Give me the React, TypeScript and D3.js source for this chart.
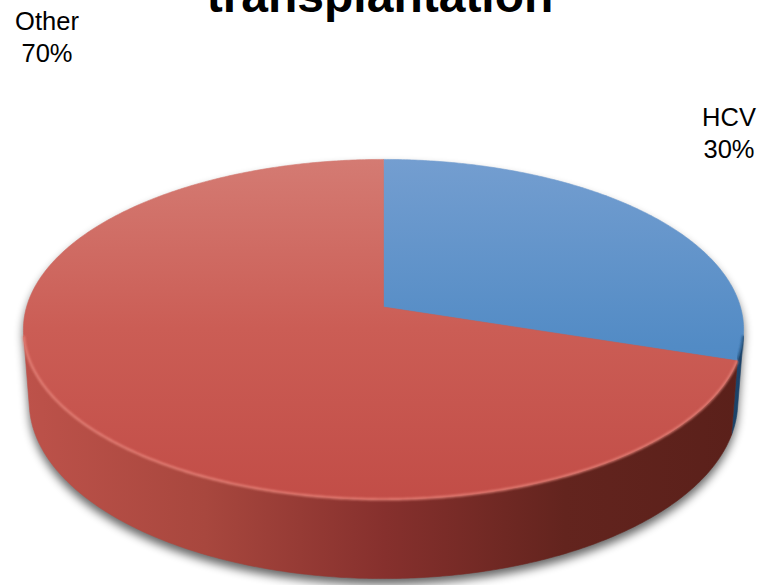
import React from "react";
import * as d3 from "d3";

// ---- data ----
const categories = ["HCV", "Other"];
const values = [30, 70];
const titleText = "transplantation";

// ---- layout / styling ----
const W = 760;
const H = 585;
const CX = 383.5; // projected pie centre
const CY = 307;
const FOCAL = 2395;
const DIST = 6.71;
const ELEV = (27.9 * Math.PI) / 180;
const THICK = 0.232;
const FONT = "'Liberation Sans', Arial, Helvetica, sans-serif";

const topStops: Record<string, [number, string][]> = {
  HCV: [
    [0, "#749ed0"],
    [0.55, "#528bc5"],
    [1, "#4682bf"],
  ],
  Other: [
    [0, "#d47b73"],
    [0.5, "#cb5d55"],
    [1, "#c24d47"],
  ],
};
const wallStops: Record<string, [number, string][]> = {
  HCV: [
    [0, "#2f6290"],
    [1, "#1c4268"],
  ],
  Other: [
    [0, "#bd524a"],
    [0.25, "#a8473e"],
    [0.5, "#86302d"],
    [0.75, "#63241e"],
    [1, "#5a201a"],
  ],
};
const labelPos: Record<string, [number, number]> = {
  HCV: [729, 126],
  Other: [47, 30],
};

const sE = Math.sin(ELEV);
const cE = Math.cos(ELEV);

function project(a: number, r: number, h: number): [number, number] {
  const u = r * Math.sin(a);
  const v = r * Math.cos(a);
  const Y = v * sE + h * cE;
  const Z = DIST + v * cE - h * sE;
  return [CX + (FOCAL * u) / Z, CY - (FOCAL * Y) / Z];
}

const aMin = Math.acos(-1 / (DIST * cE));
const aMax = 2 * Math.PI - aMin;

function rimPoints(a0: number, a1: number, h: number): [number, number][] {
  const n = Math.max(2, Math.ceil(Math.abs(a1 - a0) / 0.01));
  const pts: [number, number][] = [];
  for (let i = 0; i <= n; i++) {
    pts.push(project(a0 + ((a1 - a0) * i) / n, 1, h));
  }
  return pts;
}

const line = d3.line();

export default function App() {
  const pie = d3
    .pie<number>()
    .sort(null)
    .startAngle(0)
    .endAngle(2 * Math.PI);
  const arcs = pie(values);
  const total = d3.sum(values);

  const slices = arcs.map((d, i) => {
    const name = categories[i];
    const apex: [number, number] = project(0, 0, 0);
    const topPath =
      line([apex, ...rimPoints(d.startAngle, d.endAngle, 0)])! + "Z";
    const w0 = Math.max(d.startAngle, aMin);
    const w1 = Math.min(d.endAngle, aMax);
    let wallPath: string | null = null;
    let rimPath: string | null = null;
    if (w1 > w0) {
      const topR = rimPoints(w0, w1, 0);
      const botR = rimPoints(w0, w1, -THICK).reverse();
      wallPath = line([...topR, ...botR])! + "Z";
      rimPath = line(topR)!;
    }
    return { name, d, topPath, wallPath, rimPath, i };
  });

  const fullTop = line(rimPoints(0, 2 * Math.PI, 0))! + "Z";
  const fullWall =
    line([
      ...rimPoints(aMin, aMax, 0),
      ...rimPoints(aMin, aMax, -THICK).reverse(),
    ])! + "Z";

  return (
    <svg
      width={W}
      height={H}
      style={{ position: "absolute", left: 0, top: 0, background: "#fff" }}
    >
      <defs>
        <filter id="shadowBlur" x="-10%" y="-10%" width="120%" height="130%">
          <feGaussianBlur stdDeviation="5" />
        </filter>
        <filter id="rimBlur" x="-5%" y="-5%" width="110%" height="110%">
          <feGaussianBlur stdDeviation="0.9" />
        </filter>
        {slices.map((s) => (
          <linearGradient
            key={"tg" + s.i}
            id={"top" + s.i}
            gradientUnits="userSpaceOnUse"
            x1={0}
            y1={158}
            x2={0}
            y2={500}
          >
            {topStops[s.name].map(([o, c], k) => (
              <stop key={k} offset={o} stopColor={c} />
            ))}
          </linearGradient>
        ))}
        {slices.map((s) => (
          <linearGradient
            key={"wg" + s.i}
            id={"wall" + s.i}
            gradientUnits="userSpaceOnUse"
            x1={25}
            y1={0}
            x2={745}
            y2={0}
          >
            {wallStops[s.name].map(([o, c], k) => (
              <stop key={k} offset={o} stopColor={c} />
            ))}
          </linearGradient>
        ))}
      </defs>

      {/* drop shadow */}
      <g
        filter="url(#shadowBlur)"
        transform="translate(0,6)"
        fill="#000"
        opacity={0.6}
      >
        <path d={fullTop} />
        <path d={fullWall} />
      </g>

      {/* walls */}
      {slices.map((s) =>
        s.wallPath ? (
          <path
            key={"w" + s.i}
            d={s.wallPath}
            fill={`url(#wall${s.i})`}
            stroke={`url(#wall${s.i})`}
            strokeWidth={0.6}
          />
        ) : null
      )}

      {/* tops */}
      {slices.map((s) => (
        <path
          key={"t" + s.i}
          d={s.topPath}
          fill={`url(#top${s.i})`}
          stroke={`url(#top${s.i})`}
          strokeWidth={0.6}
        />
      ))}

      {/* bevel highlights on the front rim */}
      {slices.map((s) =>
        s.rimPath ? (
          <path
            key={"r" + s.i}
            d={s.rimPath}
            fill="none"
            stroke={s.name === "HCV" ? "#1f4a73" : "#e8857b"}
            strokeWidth={2.4}
            opacity={0.85}
            filter="url(#rimBlur)"
          />
        ) : null
      )}

      {/* title (second line, partly outside the view) */}
      <text
        x={380}
        y={12}
        textAnchor="middle"
        fontFamily={FONT}
        fontWeight="bold"
        fontSize={48}
        fill="#000"
      >
        {titleText}
      </text>

      {/* labels */}
      {slices.map((s) => {
        const [lx, ly] = labelPos[s.name];
        const pct = Math.round((s.d.value / total) * 100) + "%";
        return (
          <text
            key={"l" + s.i}
            x={lx}
            y={ly}
            textAnchor="middle"
            fontFamily={FONT}
            fontSize={25.5}
            fill="#000"
          >
            <tspan x={lx}>{s.name}</tspan>
            <tspan x={lx} dy={31.5}>
              {pct}
            </tspan>
          </text>
        );
      })}
    </svg>
  );
}
